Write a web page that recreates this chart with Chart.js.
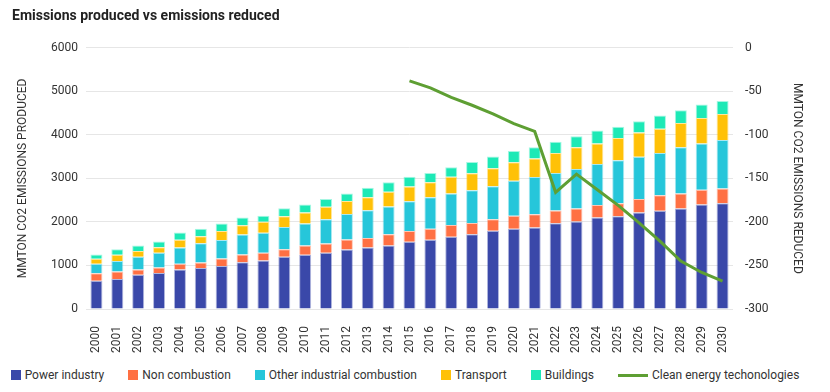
<!DOCTYPE html>
<html>
<head>
<meta charset="utf-8">
<script src="https://cdn.jsdelivr.net/npm/chart.js@4"></script>
<style>
  body { margin: 0; background: #fff; font-family: Roboto, sans-serif; }
  #wrap { position: relative; width: 830px; height: 392px; }
  #legend { position: absolute; left: 0; top: 368px; width: 810px; display: flex; justify-content: center; gap: 24px; font-size: 12px; color: #333; }
  #legend span.item { display: flex; align-items: center; gap: 4px; white-space: nowrap; }
</style>
</head>
<body>
<div id="wrap">
  <div style="position:absolute;left:0;top:0;width:830px;height:362px;"><canvas id="chart"></canvas></div>
  <div id="legend"></div>
</div>
<script>
// years on the x axis
const years = ['2000','2001','2002','2003','2004','2005','2006','2007','2008','2009',
  '2010','2011','2012','2013','2014','2015','2016','2017','2018','2019',
  '2020','2021','2022','2023','2024','2025','2026','2027','2028','2029','2030'];

// emissions produced (MMTON CO2), stacked
const powerIndustry = [650,690,785,825,910,945,990,1075,1115,1200,1245,1290,1370,1415,1460,1545,1590,1660,1715,1800,1845,1875,1970,2010,2100,2130,2215,2260,2310,2400,2430];
const nonCombustion = [170,170,125,130,130,125,170,175,175,175,215,215,225,215,255,245,255,270,260,260,295,300,295,300,290,300,310,355,345,340,340];
const otherIndustrial = [220,245,290,340,375,440,425,460,460,510,505,555,585,640,640,685,725,725,755,760,805,855,860,905,940,985,970,970,1060,1060,1110];
const transport = [115,140,130,125,175,160,205,215,255,245,250,290,300,300,340,340,340,385,390,415,425,430,460,500,470,515,560,555,555,590,600];
const buildings = [100,130,130,130,170,175,175,175,140,185,185,175,175,215,215,225,215,215,255,270,260,255,255,255,300,255,260,305,295,310,300];

// emissions reduced (MMTON CO2), right axis, starts 2015
const cleanEnergy = [null,null,null,null,null,null,null,null,null,null,null,null,null,null,null,
  -38,-46,-57,-66,-76,-87,-96,-166,-145,-163,-181,-201,-222,-245,-258,-268];

const colors = {
  power: '#3a48a9',
  non: '#ff7043',
  other: '#26c6da',
  transport: '#ffc107',
  buildings: '#1de9b6',
  clean: '#5e9f33'
};

const barSet = (label, data, color) => ({
  type: 'bar',
  label: label,
  data: data,
  backgroundColor: color,
  borderColor: color + '66',
  borderWidth: 1,
  stack: 's',
  yAxisID: 'y',
  categoryPercentage: 0.8,
  barPercentage: 0.72,
  order: 2
});

const textColor = '#333';
const tickFont = { family: 'Roboto', size: 12 };

const chart = new Chart(document.getElementById('chart'), {
  data: {
    labels: years,
    datasets: [
      barSet('Power industry', powerIndustry, colors.power),
      barSet('Non combustion', nonCombustion, colors.non),
      barSet('Other industrial combustion', otherIndustrial, colors.other),
      barSet('Transport', transport, colors.transport),
      barSet('Buildings', buildings, colors.buildings),
      {
        type: 'line',
        label: 'Clean energy techonologies',
        data: cleanEnergy,
        borderColor: colors.clean,
        backgroundColor: colors.clean,
        borderWidth: 3,
        pointRadius: 0,
        tension: 0,
        yAxisID: 'y1',
        order: 1
      }
    ]
  },
  options: {
    responsive: true,
    maintainAspectRatio: false,
    animation: false,
    layout: { padding: { left: 12, right: 22, top: 4, bottom: 0 } },
    plugins: {
      legend: { display: false },
      tooltip: { enabled: false },
      title: {
        display: true,
        text: 'Emissions produced vs emissions reduced',
        align: 'start',
        color: '#222',
        font: { family: 'Roboto', size: 14, weight: 'bold' },
        padding: { top: 4, bottom: 23 }
      }
    },
    scales: {
      x: {
        stacked: true,
        grid: { display: false },
        border: { display: false },
        ticks: { color: textColor, font: tickFont, minRotation: 90, maxRotation: 90, autoSkip: false, padding: 9 }
      },
      y: {
        stacked: true,
        position: 'left',
        min: 0,
        max: 6000,
        afterFit: scale => { scale.width = 74; },
        ticks: { stepSize: 1000, color: textColor, font: tickFont, padding: 8, callback: v => String(v) },
        grid: { color: '#e6e6e6', drawTicks: false },
        border: { display: false },
        title: { display: true, text: 'MMTON CO2 EMISSIONS PRODUCED', color: textColor, font: tickFont }
      },
      y1: {
        position: 'right',
        min: -300,
        max: 0,
        afterFit: scale => { scale.width = 75; },
        ticks: { stepSize: 50, color: textColor, font: tickFont, padding: 12, callback: v => String(v) },
        grid: { display: false, drawTicks: false },
        border: { display: false },
        title: { display: true, text: 'MMTON CO2 EMISSIONS REDUCED', color: textColor, font: tickFont }
      }
    }
  }
});

// legend under the chart
const legend = document.getElementById('legend');
chart.data.datasets.forEach(ds => {
  const item = document.createElement('span');
  item.className = 'item';
  const sw = document.createElement('span');
  if (ds.type === 'line') {
    sw.style.cssText = 'display:inline-block;width:30px;height:3px;background:' + ds.borderColor;
  } else {
    sw.style.cssText = 'display:inline-block;width:10px;height:10px;background:' + ds.backgroundColor;
  }
  item.appendChild(sw);
  item.appendChild(document.createTextNode(ds.label));
  legend.appendChild(item);
});
</script>
</body>
</html>
